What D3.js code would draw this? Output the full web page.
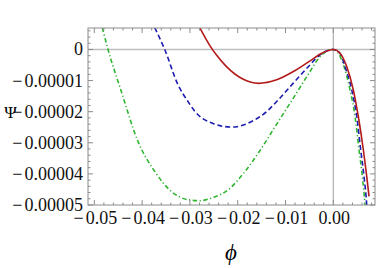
<!DOCTYPE html>
<html>
<head>
<meta charset="utf-8">
<script src="https://cdn.jsdelivr.net/npm/d3@7"></script>
<style>
body { margin: 0; background: #fff; }
</style>
</head>
<body>
<script>
//curve values, [phi, psi]
var redCurve = [[-0.02795, 0.703e-5], [-0.02579, 0.116e-5], [-0.02448, -0.173e-5], [-0.02230, -0.559e-5],
    [-0.01883, -0.960e-5], [-0.01569, -1.089e-5], [-0.01184, -0.976e-5], [-0.00837, -0.710e-5],
    [-0.00487, -0.366e-5], [-0.00243, -0.119e-5], [0, 0], [0.00140, -0.119e-5], [0.00280, -0.549e-5],
    [0.00418, -1.297e-5], [0.00523, -2.155e-5], [0.00628, -3.224e-5], [0.00699, -4.082e-5], [0.00747, -4.724e-5]];
var blueCurve = [[-0.03736, 0.703e-5], [-0.03527, 0], [-0.03249, -1.137e-5], [-0.03040, -1.673e-5],
    [-0.02893, -1.994e-5], [-0.02544, -2.367e-5], [-0.02126, -2.495e-5], [-0.01707, -2.315e-5],
    [-0.01393, -1.994e-5], [-0.01184, -1.673e-5], [-0.00837, -1.082e-5], [-0.00487, -0.495e-5],
    [-0.00278, -0.173e-5], [0, 0], [0.00140, -0.119e-5], [0.00245, -0.549e-5], [0.00385, -1.297e-5],
    [0.00490, -2.155e-5], [0.00573, -3.224e-5], [0.00642, -4.082e-5], [0.00699, -4.990e-5], [0.00710, -5.25e-5]];
var greenCurve = [[-0.04833, 0.703e-5], [-0.04713, 0], [-0.04435, -1.352e-5], [-0.04086, -2.958e-5],
    [-0.03736, -3.921e-5], [-0.03389, -4.563e-5], [-0.03040, -4.830e-5], [-0.02795, -4.862e-5],
    [-0.02544, -4.775e-5], [-0.02197, -4.509e-5], [-0.01847, -3.921e-5], [-0.01569, -3.330e-5],
    [-0.01184, -2.399e-5], [-0.00837, -1.564e-5], [-0.00487, -0.710e-5], [-0.00278, -0.228e-5],
    [0, 0], [0.00105, -0.119e-5], [0.00224, -0.549e-5], [0.00349, -1.297e-5], [0.00454, -2.155e-5],
    [0.00538, -3.224e-5], [0.00607, -4.082e-5], [0.00663, -4.990e-5], [0.00675, -5.25e-5]];

//tick values and labels
var xTicks = [-0.05, -0.04, -0.03, -0.02, -0.01, 0];
var xTickLabels = ["\u22120.05", "\u22120.04", "\u22120.03", "\u22120.02", "\u22120.01", "0.00"];
var yTicks = [0, -1e-5, -2e-5, -3e-5, -4e-5, -5e-5];
var yTickLabels = ["0", "\u22120.00001", "\u22120.00002", "\u22120.00003", "\u22120.00004", "\u22120.00005"];

var serif = "'Liberation Serif', 'Times New Roman', Times, serif";

window.onload = drawChart();

function drawChart(){
    var width = 387,
        height = 268,
        left = 88,
        right = 375,
        top = 28,
        bottom = 205;

    var svg = d3.select("body")
        .append("svg")
        .attr("width", width)
        .attr("height", height);

    var x = d3.scaleLinear()
        .domain([-0.05132, 0.00872])
        .range([left, right]);
    var y = d3.scaleLinear()
        .domain([-5e-5, 0.69e-5])
        .range([bottom, top]);

    //clip curves to frame
    svg.append("clipPath")
        .attr("id", "plotClip")
        .append("rect")
        .attr("x", left)
        .attr("y", top)
        .attr("width", right - left)
        .attr("height", bottom - top);

    //origin axes
    svg.append("line")
        .attr("x1", left).attr("x2", right)
        .attr("y1", y(0)).attr("y2", y(0))
        .attr("stroke", "#bdbdbd")
        .attr("stroke-width", 1.5);
    svg.append("line")
        .attr("x1", x(0)).attr("x2", x(0))
        .attr("y1", top).attr("y2", bottom)
        .attr("stroke", "#b0b0b0")
        .attr("stroke-width", 1.2);

    //curves
    var line = d3.line()
        .x(function(d){ return x(d[0]); })
        .y(function(d){ return y(d[1]); })
        .curve(d3.curveMonotoneX);

    var series = [
        {data: greenCurve, color: "#2fb52f", dash: "4.5,2.5,1.2,2.5"},
        {data: blueCurve, color: "#1c1cb0", dash: "5,3"},
        {data: redCurve, color: "#b51a1a", dash: null}
    ];

    svg.append("g")
        .attr("clip-path", "url(#plotClip)")
        .selectAll("path")
        .data(series)
        .enter()
        .append("path")
        .attr("d", function(d){ return line(d.data); })
        .attr("fill", "none")
        .attr("stroke", function(d){ return d.color; })
        .attr("stroke-width", 1.6)
        .attr("stroke-dasharray", function(d){ return d.dash; });

    //frame
    svg.append("rect")
        .attr("x", left)
        .attr("y", top)
        .attr("width", right - left)
        .attr("height", bottom - top)
        .attr("fill", "none")
        .attr("stroke", "#8c8c8c")
        .attr("stroke-width", 1);

    //ticks, inward on all four sides
    var xMinor = d3.range(-0.05, 0.0088, 0.002).filter(function(v){
        return Math.abs(Math.round(v / 0.01) * 0.01 - v) > 1e-6;
    });
    var yMinor = d3.range(-5e-5, 0.69e-5, 2e-6).filter(function(v){
        return Math.abs(Math.round(v / 1e-5) * 1e-5 - v) > 1e-9;
    });
    var ticks = svg.append("g")
        .attr("stroke", "#8c8c8c")
        .attr("stroke-width", 1);

    function xTick(v, len){
        ticks.append("line")
            .attr("x1", x(v)).attr("x2", x(v))
            .attr("y1", bottom).attr("y2", bottom - len);
        ticks.append("line")
            .attr("x1", x(v)).attr("x2", x(v))
            .attr("y1", top).attr("y2", top + len);
    }
    function yTick(v, len){
        ticks.append("line")
            .attr("x1", left).attr("x2", left + len)
            .attr("y1", y(v)).attr("y2", y(v));
        ticks.append("line")
            .attr("x1", right).attr("x2", right - len)
            .attr("y1", y(v)).attr("y2", y(v));
    }
    xTicks.forEach(function(v){ xTick(v, 5); });
    xMinor.forEach(function(v){ xTick(v, 2.5); });
    yTicks.forEach(function(v){ yTick(v, 5); });
    yMinor.forEach(function(v){ yTick(v, 2.5); });

    //label with a little room after the minus sign, like the original
    function fillLabel(sel, label){
        if (label.charAt(0) == "\u2212"){
            sel.append("tspan").text("\u2212");
            sel.append("tspan").attr("dx", 2).text(label.slice(1));
        } else {
            sel.text(label);
        }
    }

    //tick labels
    svg.selectAll(".xLabel")
        .data(xTicks)
        .enter()
        .append("text")
        .attr("class", "xLabel")
        .attr("font-family", serif)
        .attr("font-size", 18)
        .attr("fill", "#111")
        .attr("x", function(d){ return x(d) + 1; })
        .attr("y", 223.5)
        .attr("text-anchor", "middle")
        .each(function(d, i){ fillLabel(d3.select(this), xTickLabels[i]); });

    svg.selectAll(".yLabel")
        .data(yTicks)
        .enter()
        .append("text")
        .attr("class", "yLabel")
        .attr("font-family", serif)
        .attr("font-size", 18)
        .attr("fill", "#111")
        .attr("x", 83)
        .attr("y", function(d){ return y(d) + 6; })
        .attr("text-anchor", "end")
        .each(function(d, i){ fillLabel(d3.select(this), yTickLabels[i]); });

    //axis titles
    svg.append("text")
        .attr("font-family", serif)
        .attr("font-size", 17)
        .attr("x", 10.5)
        .attr("y", 118)
        .attr("text-anchor", "middle")
        .text("\u03A8");
    svg.append("text")
        .attr("font-family", serif)
        .attr("font-size", 23)
        .attr("font-style", "italic")
        .attr("x", 231)
        .attr("y", 260)
        .attr("text-anchor", "middle")
        .text("\u03D5");
};
</script>
</body>
</html>
